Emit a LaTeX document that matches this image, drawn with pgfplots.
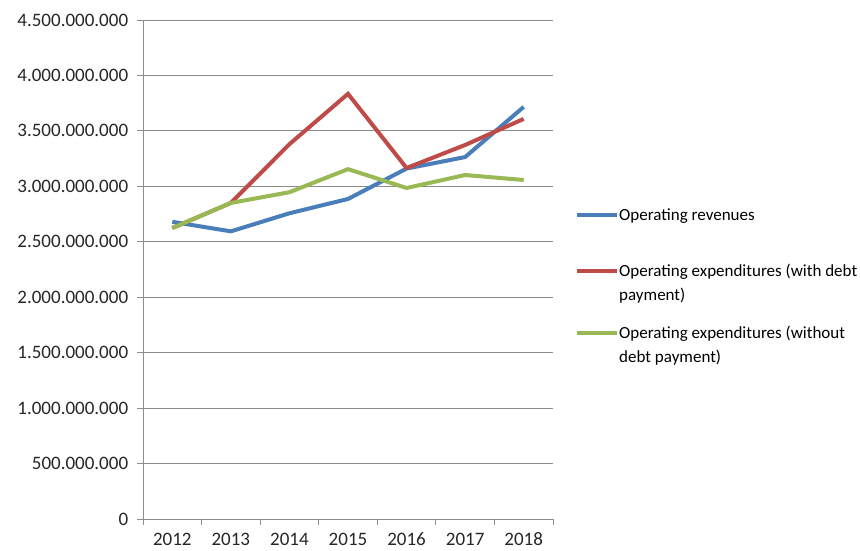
\documentclass[border=0pt]{standalone}
\usepackage{pgfplots}
\pgfplotsset{compat=1.18}
\usepackage{fontspec}
\setmainfont{Carlito}
\definecolor{cblue}{HTML}{4A7EBB}
\definecolor{cred}{HTML}{BE4B48}
\definecolor{cgreen}{HTML}{98B954}
\definecolor{gridc}{HTML}{8C8C8C}
\begin{document}
\fontsize{17bp}{24bp}\selectfont
\begin{tikzpicture}[x=1bp,y=1bp]
\useasboundingbox (0,0) rectangle (860,551);
\begin{axis}[
  at={(143bp,32bp)}, anchor=south west,
  scale only axis, width=410bp, height=499bp,
  xmin=-0.5, xmax=6.5, ymin=0, ymax=4.5e9,
  scaled y ticks=false,
  axis x line*=bottom, axis y line*=left,
  axis line style={gridc, line width=0.8bp},
  xtick={-0.5,0.5,...,6.5},
  xticklabels={2012,2013,2014,2015,2016,2017,2018},
  x tick label as interval,
  ytick={0,5e8,1e9,1.5e9,2e9,2.5e9,3e9,3.5e9,4e9,4.5e9},
  yticklabels={0,500.000.000,1.000.000.000,1.500.000.000,2.000.000.000,2.500.000.000,3.000.000.000,3.500.000.000,4.000.000.000,4.500.000.000},
  ymajorgrids, grid style={gridc, line width=0.8bp},
  tick align=outside, major tick length=6bp,
  tick style={gridc, line width=0.8bp},
  every tick label/.append style={font=\fontsize{19bp}{22bp}\selectfont, text=black!85},
  yticklabel style={xshift=-3bp},
  xticklabel style={yshift=-2bp},
  clip=false,
]
\addplot[cblue, line width=4bp] coordinates {(0,2.68e9) (1,2.594e9) (2,2.757e9) (3,2.886e9) (4,3.16e9) (5,3.264e9) (6,3.716e9)};
\addplot[cred, line width=4bp] coordinates {(0,2.624e9) (1,2.85e9) (2,3.38e9) (3,3.834e9) (4,3.165e9) (5,3.373e9) (6,3.608e9)};
\addplot[cgreen, line width=4bp] coordinates {(0,2.624e9) (1,2.85e9) (2,2.947e9) (3,3.155e9) (4,2.985e9) (5,3.102e9) (6,3.057e9)};
\end{axis}
% legend
\draw[cblue, line width=4bp] (577,336) -- (617,336);
\node[anchor=base west, inner sep=0pt] at (619,330) {Operating revenues};
\draw[cred, line width=4bp] (577,280) -- (617,280);
\node[anchor=base west, inner sep=0pt] at (619,274) {\begin{tabular}[t]{@{}l@{}}Operating expenditures (with debt\\payment)\end{tabular}};
\draw[cgreen, line width=4bp] (577,218) -- (617,218);
\node[anchor=base west, inner sep=0pt] at (619,212) {\begin{tabular}[t]{@{}l@{}}Operating expenditures (without\\debt payment)\end{tabular}};
\end{tikzpicture}
\end{document}
